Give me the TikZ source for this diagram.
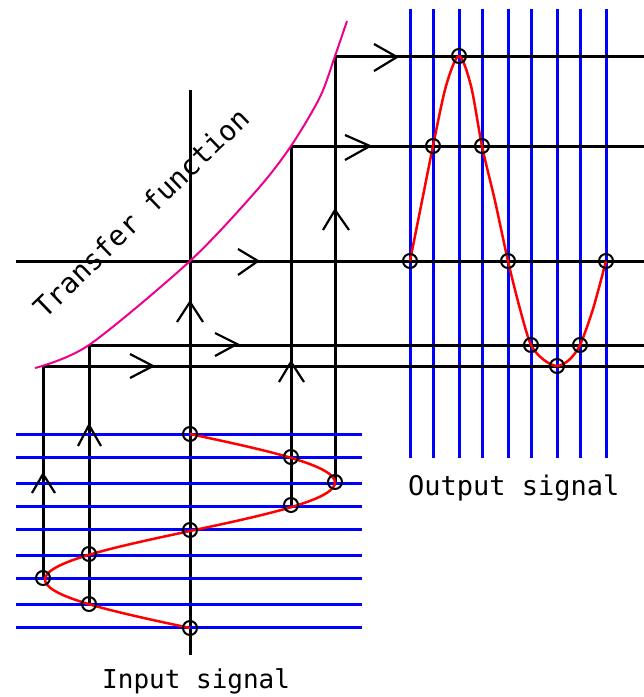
\documentclass[tikz,border=0pt]{standalone}
\usepackage{fontspec}
\setmonofont{DejaVu Sans Mono}
\begin{document}
\begin{tikzpicture}[x=1pt,y=-1pt,
  blk/.style={line width=3pt,black},
  blu/.style={line width=3pt,blue},
  sig/.style={line width=2.5pt,red},
  tf/.style={line width=2pt,magenta},
  chev/.style={line width=2.2pt,black},
  mk/.style={draw=black,line width=2pt,circle,minimum size=14pt,inner sep=0pt},
  lbl/.style={inner sep=0pt,font=\ttfamily\fontsize{26}{26}\selectfont}]
\useasboundingbox (0,0) rectangle (644,697);
% ---- level coordinates
\coordinate (a1) at (335,56);  \coordinate (b1) at (644,56);
\coordinate (a2) at (291,146); \coordinate (b2) at (644,146);
\coordinate (a3) at (16,261);  \coordinate (b3) at (644,261);
\coordinate (a4) at (89,345);  \coordinate (b4) at (644,345);
\coordinate (a5) at (43,366);  \coordinate (b5) at (644,366);
% input sample points
\coordinate (i0) at (190,434); \coordinate (i1) at (291,457);
\coordinate (i2) at (335,482); \coordinate (i3) at (291,505);
\coordinate (i4) at (190,530); \coordinate (i5) at (89,554);
\coordinate (i6) at (43,578);  \coordinate (i7) at (89,604);
\coordinate (i8) at (190,628);
\coordinate (vt) at (190,90);  \coordinate (vb) at (190,655);
% output sample points
\coordinate (o0) at (410,261); \coordinate (o1) at (433,146);
\coordinate (o2) at (459,56);  \coordinate (o3) at (482,146);
\coordinate (o4) at (508,261); \coordinate (o5) at (531,345);
\coordinate (o6) at (557,366); \coordinate (o7) at (580,345);
\coordinate (o8) at (606,261);
% ---- output grid (blue verticals)
\foreach \x in {410,433,459,482,508,531,557,580,606}
  \draw[blu] (\x,9) -- (\x,458);
% ---- black levels
\draw[blk] (a1) -- (b1);
\draw[blk] (a2) -- (b2);
\draw[blk] (a3) -- (b3);
\draw[blk] (a4) -- (b4);
\draw[blk] (a5) -- (b5);
% ---- black verticals
\draw[blk] (a5) -- (i6);
\draw[blk] (a4) -- (i7);
\draw[blk] (vt) -- (vb);
\draw[blk] (a2) -- (i3);
\draw[blk] (a1) -- (i2);
% ---- input grid (blue horizontals)
\foreach \y in {434,457,483,506,529,555,578,604,627}
  \draw[blu] (16,\y) -- (362,\y);
% ---- transfer function
\draw[tf] plot[smooth,tension=0.5] coordinates {(35,368) (89,345) (190,261) (257,190) (291,146) (320,97) (335,56) (347,21)};
% ---- input signal
\draw[sig] plot[domain=0:360,samples=73,variable=\t] ({190+145*sin(\t)},{434+(\t/360)*194});
% ---- output signal
\draw[sig] plot[smooth,tension=0.5] coordinates {(410,261) (422,201) (433,146) (446,86) (459,56) (471,86) (482,146) (495,201) (508,261) (520,309) (531,345) (544,360) (557,366) (569,360) (580,345) (593,309) (606,261)};
% ---- sample markers
\foreach \p in {i0,i1,i2,i3,i4,i5,i6,i7,i8,o0,o1,o2,o3,o4,o5,o6,o7,o8}
  \node[mk] (m\p) at (\p) {};
% ---- direction chevrons
\draw[chev] (374,44) -- (397,57) -- (374,71);
\draw[chev] (345,135) -- (370,146) -- (345,160);
\draw[chev] (238,249) -- (258,261) -- (238,275);
\draw[chev] (215,333) -- (237,344) -- (215,356);
\draw[chev] (130,354) -- (153,366) -- (130,378);
\draw[chev] (177,322) -- (190,302) -- (203,322);
\draw[chev] (323,230) -- (335,210) -- (349,230);
\draw[chev] (279,382) -- (291,362) -- (304,382);
\draw[chev] (78,446) -- (89,425) -- (101,446);
\draw[chev] (32,493) -- (43,474) -- (55,493);
% ---- labels
\node[lbl,anchor=base west,rotate=44,font=\ttfamily\fontsize{28}{28}\selectfont] (tfl) at (45,320) {Transfer function};
\node[lbl,anchor=base west] (inl) at (102,688) {Input signal};
\node[lbl,anchor=base west,font=\ttfamily\fontsize{27}{27}\selectfont] (outl) at (408,495) {Output signal};
\end{tikzpicture}
\end{document}
